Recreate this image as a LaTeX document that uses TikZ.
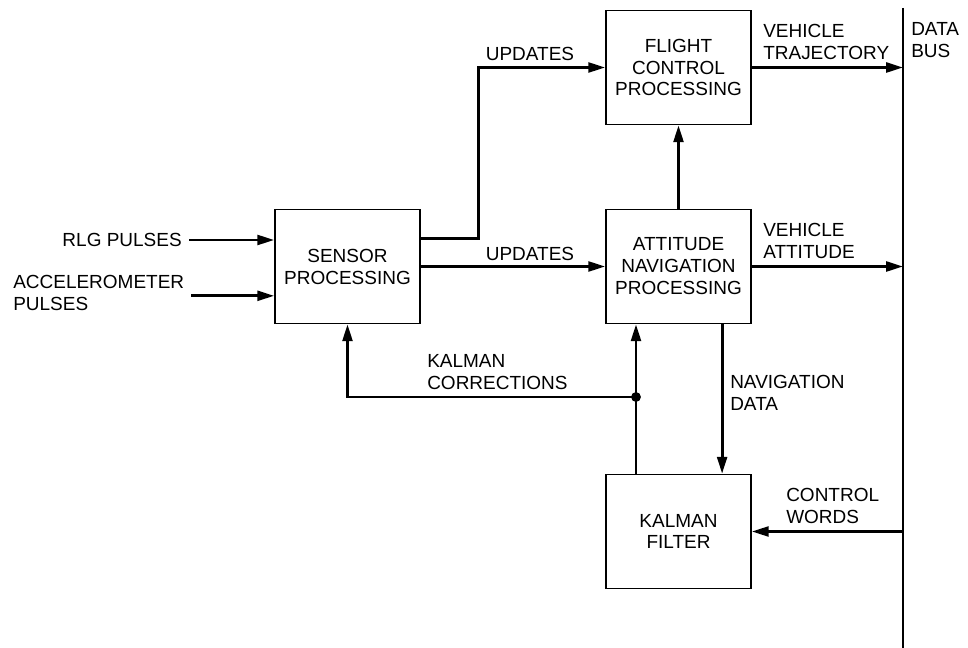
\documentclass[tikz,border=0pt]{standalone}
\usepackage{fontspec}
\setmainfont{Liberation Sans}
\usetikzlibrary{arrows.meta}
\newcommand{\lblfont}{\fontsize{13.5}{15.6}\selectfont}

\begin{document}
\begin{tikzpicture}[
    x=0.025cm, y=-0.025cm,
    block/.style={rectangle, draw=black, line width=1.1pt, minimum width=3.625cm, minimum height=2.85cm, align=center, inner sep=0pt, font=\lblfont},
    lbl/.style={inner sep=0pt, align=left, font=\lblfont},
    flow/.style={line width=2pt, -{Triangle[length=12pt,width=7pt]}},
    jdot/.style={circle, fill=black, minimum size=7pt, inner sep=0pt}
]
\useasboundingbox (0,0) rectangle (968,648);

%% blocks
\node[block] (sensor) at (347.5,266.5) {SENSOR\\PROCESSING};
\node[block] (flight) at (678.5,67.5)  {FLIGHT\\CONTROL\\PROCESSING};
\node[block] (attnav) at (678.5,266.5) {ATTITUDE\\NAVIGATION\\PROCESSING};
\node[block] (kalman) at (678.5,531.5) {KALMAN\\FILTER};

%% data bus
\coordinate (bustop) at (903,8);
\coordinate (busbot) at (903,648);
\draw[line width=2pt] (bustop) -- (busbot);
\node[lbl, anchor=west] (databus) at (911,40) {DATA\\BUS};

%% inputs
\node[lbl, anchor=east] (rlg)   at (182,240)   {RLG PULSES};
\node[lbl, anchor=west] (accel) at (13,293)    {ACCELEROMETER\\PULSES};
\draw[flow] ([xshift=5pt]rlg.east) -- (rlg.east -| sensor.west);
\draw[flow] ([xshift=5pt,yshift=-2pt]accel.east) -- ([yshift=-2pt]accel.east -| sensor.west);

%% updates
\draw[flow] ([yshift=0.69cm]sensor.east) -- ++(1.45cm,0) |- (flight.west);
\draw[flow] (sensor.east) -- (attnav.west);
\node[lbl] (upd1) at (530,54)  {UPDATES};
\node[lbl] (upd2) at (530,254) {UPDATES};
\draw[flow] (attnav.north) -- (flight.south);

%% to the bus
\draw[flow] (flight.east) -- (flight.east -| bustop);
\draw[flow] (attnav.east) -- (attnav.east -| bustop);
\node[lbl, anchor=west] (vtraj) at (763,42)  {VEHICLE\\TRAJECTORY};
\node[lbl, anchor=west] (vatt)  at (763,241) {VEHICLE\\ATTITUDE};

%% kalman loop
\draw[flow] ([xshift=1.09cm]attnav.south) -- ([xshift=1.09cm]kalman.north);
\node[lbl, anchor=west] (navdata) at (730,392.5) {NAVIGATION\\DATA};
\coordinate (kjoin) at (636,397);
\draw[flow] (kalman.north -| kjoin) -- (attnav.south -| kjoin);
\draw[flow] (kjoin) -| (sensor.south);
\node[jdot] at (kjoin) {};
\node[lbl, anchor=west] (kcorr) at (427,372.5) {KALMAN\\CORRECTIONS};
\draw[flow] (kalman.east -| bustop) -- (kalman.east);
\node[lbl, anchor=west] (ctrl) at (786,506) {CONTROL\\WORDS};
\end{tikzpicture}
\end{document}
